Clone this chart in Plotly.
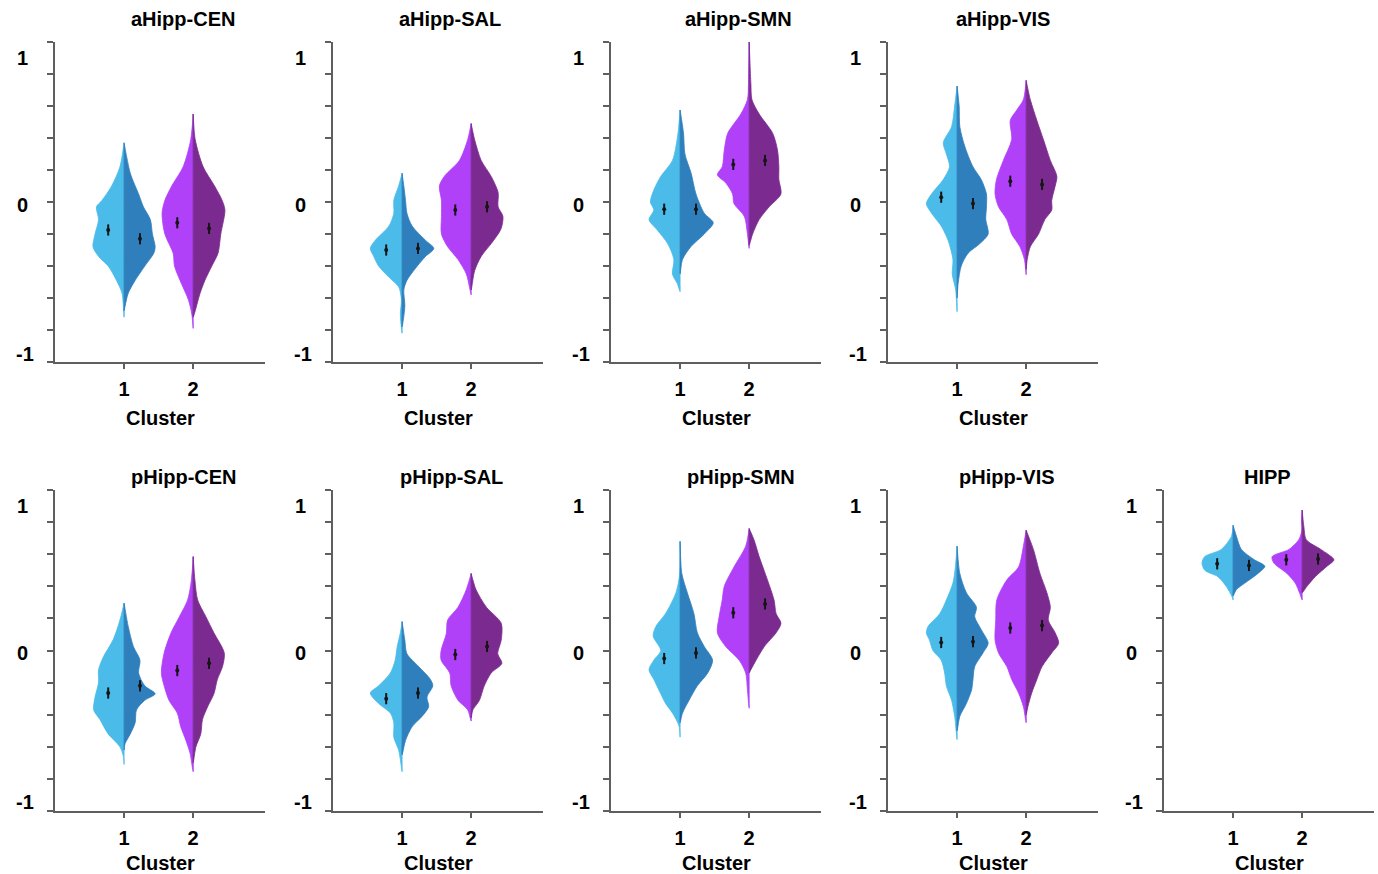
import plotly.graph_objects as go

# ---------------- data ----------------
TITLES = ["aHipp-CEN", "aHipp-SAL", "aHipp-SMN", "aHipp-VIS",
          "pHipp-CEN", "pHipp-SAL", "pHipp-SMN", "pHipp-VIS", "HIPP"]
CATEGORIES = [1, 2]
CAT_LABELS = ["1", "2"]
Y_LABEL_VALUES = ["1", "0", "-1"]

# Each half-violin profile: (y value, half width) from bottom to top
aHipp_CEN_c1_L = [(-0.72,0),(-0.57,0.03),(-0.49,0.11),(-0.40,0.23),(-0.34,0.37),(-0.28,0.45),(-0.20,0.42),(-0.11,0.37),(-0.03,0.40),(0.01,0.32),(0.10,0.18),(0.22,0.06),(0.37,0)]
aHipp_CEN_c1_R = [(-0.68,0),(-0.65,0.015),(-0.57,0.06),(-0.49,0.16),(-0.40,0.30),(-0.32,0.43),(-0.28,0.45),(-0.20,0.41),(-0.11,0.38),(-0.03,0.28),(0.05,0.21),(0.18,0.09),(0.37,0)]
aHipp_CEN_c2_L = [(-0.79,0),(-0.70,0.02),(-0.61,0.07),(-0.49,0.19),(-0.40,0.27),(-0.32,0.29),(-0.20,0.41),(-0.07,0.45),(0.01,0.41),(0.10,0.31),(0.22,0.145),(0.39,0.035),(0.55,0)]
aHipp_CEN_c2_R = [(-0.72,0),(-0.68,0.03),(-0.57,0.10),(-0.49,0.17),(-0.40,0.27),(-0.32,0.36),(-0.20,0.40),(-0.05,0.46),(0.01,0.42),(0.10,0.31),(0.22,0.145),(0.39,0.03),(0.55,0)]
aHipp_CEN_means = [-0.175, -0.23, -0.13, -0.165]

aHipp_SAL_c1_L = [(-0.82,0),(-0.70,0.025),(-0.61,0.01),(-0.53,0.05),(-0.47,0.19),(-0.40,0.34),(-0.34,0.41),(-0.29,0.46),(-0.24,0.39),(-0.15,0.19),(-0.07,0.12),(0.01,0.12),(0.10,0.05),(0.18,0)]
aHipp_SAL_c1_R = [(-0.78,0),(-0.65,0.04),(-0.55,0.025),(-0.49,0.07),(-0.40,0.22),(-0.34,0.34),(-0.29,0.46),(-0.24,0.34),(-0.15,0.145),(-0.07,0.07),(0.01,0.05),(0.10,0.025),(0.18,0)]
aHipp_SAL_c2_L = [(-0.58,0),(-0.53,0.025),(-0.45,0.07),(-0.36,0.19),(-0.28,0.34),(-0.20,0.43),(-0.09,0.43),(0.01,0.43),(0.10,0.46),(0.16,0.39),(0.26,0.17),(0.39,0.05),(0.49,0)]
aHipp_SAL_c2_R = [(-0.55,0),(-0.43,0.05),(-0.34,0.145),(-0.26,0.29),(-0.17,0.43),(-0.09,0.46),(-0.03,0.39),(0.06,0.39),(0.16,0.29),(0.26,0.145),(0.39,0.05),(0.49,0)]
aHipp_SAL_means = [-0.30, -0.29, -0.05, -0.03]

aHipp_SMN_c1_L = [(-0.56,0),(-0.51,0.04),(-0.45,0.11),(-0.36,0.09),(-0.26,0.18),(-0.175,0.33),(-0.11,0.45),(-0.05,0.38),(0.0,0.43),(0.075,0.38),(0.16,0.28),(0.26,0.11),(0.43,0.03),(0.575,0)]
aHipp_SMN_c1_R = [(-0.45,0),(-0.36,0.035),(-0.28,0.155),(-0.2,0.35),(-0.13,0.48),(-0.07,0.35),(0.05,0.23),(0.18,0.16),(0.30,0.07),(0.43,0.05),(0.575,0)]
aHipp_SMN_c2_L = [(-0.29,0),(-0.2,0.025),(-0.09,0.07),(-0.01,0.22),(0.05,0.24),(0.12,0.34),(0.17,0.46),(0.22,0.39),(0.325,0.36),(0.43,0.31),(0.55,0.12),(0.64,0.025),(0.74,0.01),(1.0,0)]
aHipp_SMN_c2_R = [(-0.27,0),(-0.2,0.05),(-0.11,0.145),(-0.03,0.29),(0.05,0.46),(0.14,0.43),(0.22,0.43),(0.325,0.41),(0.43,0.34),(0.55,0.145),(0.64,0.04),(0.74,0.025),(1.0,0)]
aHipp_SMN_means = [-0.045, -0.045, 0.235, 0.26]

aHipp_VIS_c1_L = [(-0.685,0),(-0.55,0.02),(-0.45,0.07),(-0.36,0.06),(-0.24,0.13),(-0.15,0.23),(-0.07,0.37),(-0.01,0.445),(0.05,0.37),(0.14,0.20),(0.22,0.11),(0.30,0.155),(0.37,0.20),(0.47,0.08),(0.60,0.035),(0.725,0)]
aHipp_VIS_c1_R = [(-0.6,0),(-0.51,0.015),(-0.40,0.06),(-0.32,0.16),(-0.26,0.33),(-0.2,0.45),(-0.11,0.415),(-0.03,0.425),(0.05,0.425),(0.14,0.35),(0.22,0.23),(0.35,0.11),(0.47,0.04),(0.60,0.03),(0.725,0)]
aHipp_VIS_c2_L = [(-0.455,0),(-0.36,0.025),(-0.28,0.09),(-0.2,0.21),(-0.11,0.28),(-0.03,0.40),(0.05,0.45),(0.14,0.43),(0.26,0.33),(0.39,0.21),(0.51,0.23),(0.575,0.135),(0.64,0.04),(0.76,0)]
aHipp_VIS_c2_R = [(-0.42,0),(-0.36,0.015),(-0.28,0.06),(-0.2,0.18),(-0.11,0.27),(-0.05,0.37),(0.01,0.37),(0.10,0.42),(0.16,0.445),(0.26,0.35),(0.39,0.25),(0.51,0.155),(0.64,0.06),(0.76,0)]
aHipp_VIS_means = [0.03, -0.01, 0.13, 0.11]

pHipp_CEN_c1_L = [(-0.71,0),(-0.66,0.01),(-0.60,0.06),(-0.52,0.23),(-0.43,0.35),(-0.37,0.44),(-0.29,0.42),(-0.20,0.37),(-0.12,0.37),(-0.04,0.30),(0.07,0.155),(0.19,0.06),(0.295,0)]
pHipp_CEN_c1_R = [(-0.62,0),(-0.58,0.015),(-0.52,0.09),(-0.45,0.16),(-0.37,0.18),(-0.31,0.30),(-0.27,0.45),(-0.22,0.30),(-0.14,0.21),(-0.06,0.23),(0.025,0.135),(0.15,0.06),(0.295,0)]
pHipp_CEN_c2_L = [(-0.755,0),(-0.64,0.045),(-0.56,0.105),(-0.475,0.18),(-0.39,0.23),(-0.31,0.35),(-0.22,0.42),(-0.14,0.46),(-0.015,0.42),(0.11,0.32),(0.21,0.20),(0.315,0.08),(0.44,0.025),(0.585,0)]
pHipp_CEN_c2_R = [(-0.70,0),(-0.60,0.04),(-0.52,0.11),(-0.43,0.135),(-0.35,0.21),(-0.27,0.30),(-0.18,0.35),(-0.10,0.425),(-0.015,0.45),(0.11,0.30),(0.21,0.185),(0.315,0.065),(0.44,0.025),(0.585,0)]
pHipp_CEN_means = [-0.265, -0.22, -0.125, -0.08]

pHipp_SAL_c1_L = [(-0.755,0),(-0.68,0.025),(-0.62,0.05),(-0.54,0.12),(-0.45,0.12),(-0.39,0.17),(-0.33,0.34),(-0.265,0.46),(-0.22,0.34),(-0.14,0.17),(-0.06,0.10),(0.025,0.07),(0.11,0.025),(0.18,0)]
pHipp_SAL_c1_R = [(-0.65,0),(-0.56,0.05),(-0.475,0.145),(-0.41,0.29),(-0.35,0.385),(-0.29,0.36),(-0.22,0.445),(-0.18,0.41),(-0.10,0.24),(-0.02,0.07),(0.065,0.04),(0.18,0)]
pHipp_SAL_c2_L = [(-0.44,0),(-0.37,0.05),(-0.31,0.19),(-0.22,0.29),(-0.14,0.31),(-0.06,0.435),(0.0,0.435),(0.105,0.36),(0.19,0.34),(0.27,0.19),(0.38,0.07),(0.48,0)]
pHipp_SAL_c2_R = [(-0.42,0),(-0.37,0.025),(-0.31,0.12),(-0.22,0.19),(-0.14,0.29),(-0.08,0.445),(-0.02,0.385),(0.065,0.435),(0.17,0.435),(0.27,0.22),(0.38,0.07),(0.48,0)]
pHipp_SAL_means = [-0.30, -0.265, -0.025, 0.025]

pHipp_SMN_c1_L = [(-0.54,0),(-0.47,0.015),(-0.39,0.11),(-0.33,0.21),(-0.27,0.28),(-0.18,0.38),(-0.12,0.45),(-0.06,0.38),(0.0,0.28),(0.09,0.39),(0.15,0.35),(0.23,0.21),(0.36,0.06),(0.48,0.005),(0.68,0)]
pHipp_SMN_c1_R = [(-0.45,0),(-0.39,0.035),(-0.31,0.13),(-0.22,0.25),(-0.14,0.40),(-0.06,0.47),(0.025,0.35),(0.11,0.25),(0.23,0.20),(0.36,0.105),(0.48,0.025),(0.68,0)]
pHipp_SMN_c2_L = [(-0.36,0),(-0.245,0.025),(-0.14,0.05),(-0.06,0.145),(0.025,0.34),(0.11,0.46),(0.21,0.435),(0.315,0.39),(0.40,0.36),(0.52,0.22),(0.65,0.05),(0.76,0)]
pHipp_SMN_c2_R = [(-0.14,0),(-0.12,0.025),(-0.06,0.10),(0.025,0.22),(0.11,0.39),(0.17,0.46),(0.23,0.39),(0.315,0.36),(0.44,0.265),(0.585,0.145),(0.69,0.07),(0.76,0)]
pHipp_SMN_means = [-0.05, -0.015, 0.235, 0.29]

pHipp_VIS_c1_L = [(-0.555,0),(-0.41,0.035),(-0.31,0.08),(-0.22,0.155),(-0.14,0.18),(-0.06,0.23),(0.0,0.35),(0.065,0.40),(0.11,0.445),(0.15,0.42),(0.23,0.25),(0.315,0.155),(0.42,0.06),(0.52,0.025),(0.65,0)]
pHipp_VIS_c1_R = [(-0.5,0),(-0.41,0.04),(-0.33,0.135),(-0.245,0.21),(-0.18,0.23),(-0.10,0.255),(-0.015,0.375),(0.045,0.45),(0.13,0.35),(0.21,0.255),(0.27,0.28),(0.36,0.135),(0.48,0.04),(0.65,0)]
pHipp_VIS_c2_L = [(-0.45,0),(-0.35,0.04),(-0.265,0.11),(-0.18,0.21),(-0.10,0.28),(-0.015,0.40),(0.065,0.45),(0.19,0.44),(0.315,0.425),(0.44,0.28),(0.52,0.11),(0.65,0.04),(0.75,0)]
pHipp_VIS_c2_R = [(-0.4,0),(-0.35,0.025),(-0.265,0.08),(-0.18,0.155),(-0.10,0.23),(-0.015,0.37),(0.045,0.47),(0.11,0.42),(0.19,0.32),(0.27,0.35),(0.36,0.30),(0.48,0.20),(0.63,0.105),(0.75,0)]
pHipp_VIS_means = [0.05, 0.055, 0.14, 0.155]

HIPP_c1_L = [(0.315,0),(0.335,0.015),(0.40,0.10),(0.46,0.22),(0.50,0.41),(0.545,0.45),(0.585,0.41),(0.63,0.17),(0.71,0.025),(0.78,0)]
HIPP_c1_R = [(0.34,0),(0.38,0.05),(0.42,0.17),(0.48,0.36),(0.525,0.46),(0.565,0.31),(0.63,0.12),(0.71,0.05),(0.78,0)]
HIPP_c2_L = [(0.315,0),(0.355,0.035),(0.42,0.10),(0.48,0.22),(0.545,0.41),(0.585,0.435),(0.63,0.19),(0.69,0.05),(0.75,0.003),(0.815,0.01),(0.875,0)]
HIPP_c2_R = [(0.36,0),(0.40,0.07),(0.46,0.19),(0.525,0.36),(0.565,0.46),(0.63,0.27),(0.69,0.06),(0.77,0.025),(0.875,0)]
HIPP_means = [0.54, 0.53, 0.565, 0.57]

PROFILES = [
    [aHipp_CEN_c1_L, aHipp_CEN_c1_R, aHipp_CEN_c2_L, aHipp_CEN_c2_R],
    [aHipp_SAL_c1_L, aHipp_SAL_c1_R, aHipp_SAL_c2_L, aHipp_SAL_c2_R],
    [aHipp_SMN_c1_L, aHipp_SMN_c1_R, aHipp_SMN_c2_L, aHipp_SMN_c2_R],
    [aHipp_VIS_c1_L, aHipp_VIS_c1_R, aHipp_VIS_c2_L, aHipp_VIS_c2_R],
    [pHipp_CEN_c1_L, pHipp_CEN_c1_R, pHipp_CEN_c2_L, pHipp_CEN_c2_R],
    [pHipp_SAL_c1_L, pHipp_SAL_c1_R, pHipp_SAL_c2_L, pHipp_SAL_c2_R],
    [pHipp_SMN_c1_L, pHipp_SMN_c1_R, pHipp_SMN_c2_L, pHipp_SMN_c2_R],
    [pHipp_VIS_c1_L, pHipp_VIS_c1_R, pHipp_VIS_c2_L, pHipp_VIS_c2_R],
    [HIPP_c1_L, HIPP_c1_R, HIPP_c2_L, HIPP_c2_R],
]
MEANS = [aHipp_CEN_means, aHipp_SAL_means, aHipp_SMN_means, aHipp_VIS_means,
         pHipp_CEN_means, pHipp_SAL_means, pHipp_SMN_means, pHipp_VIS_means, HIPP_means]

# ---------------- styling / layout ----------------
W, H = 1378, 874
FONT = "Liberation Sans, Arial, sans-serif"
AXIS_COLOR = "#5f5f5f"
COLORS = ["#4BBBE9", "#2F7FBD", "#B041F8", "#7B2B8F"]  # c1 left, c1 right, c2 left, c2 right
COL_X = [55, 333, 611, 888, 1164]
ROW_TOP = [42, 490]
ROW_BOT = [362, 811]
PANEL_W = 210
PANEL_POS = [(0, 0), (0, 1), (0, 2), (0, 3), (1, 0), (1, 1), (1, 2), (1, 3), (1, 4)]
TITLE_X = [183, 450, 738, 1003, 184, 452, 741, 1007, 1267]
TITLE_Y = [19, 477]
X_RANGE = [0, 3.04]
MEAN_OFFSET = 0.23

fig = go.Figure()
annotations = []
layout_axes = {}

for i, (title, profs, means) in enumerate(zip(TITLES, PROFILES, MEANS)):
    row, col = PANEL_POS[i]
    n = "" if i == 0 else str(i + 1)
    xa, ya = "x" + n, "y" + n
    x0 = COL_X[col]
    top, bot = ROW_TOP[row], ROW_BOT[row]

    for k, prof in enumerate(profs):
        center = CATEGORIES[k // 2]
        side = -1 if k % 2 == 0 else 1
        ys = [p[0] for p in prof]
        xs = [center + side * p[1] for p in prof]
        # return along the centre line through the same y levels
        xs = xs + [center] * len(prof)
        ys = ys + ys[::-1]
        fig.add_trace(go.Scatter(
            x=xs, y=ys, xaxis=xa, yaxis=ya, mode="lines", fill="toself",
            fillcolor=COLORS[k],
            line=dict(color=COLORS[k], width=0.8, shape="spline", smoothing=0.8),
            hoverinfo="skip", showlegend=False))

    mx = [CATEGORIES[0] - MEAN_OFFSET, CATEGORIES[0] + MEAN_OFFSET,
          CATEGORIES[1] - MEAN_OFFSET, CATEGORIES[1] + MEAN_OFFSET]
    fig.add_trace(go.Scatter(
        x=mx, y=means, xaxis=xa, yaxis=ya, mode="markers",
        marker=dict(symbol="circle", size=4, color="#151515"),
        error_y=dict(type="constant", value=0.035, thickness=2, width=0, color="#151515"),
        hoverinfo="skip", showlegend=False))

    layout_axes["xaxis" + n] = dict(
        domain=[x0 / W, (x0 + PANEL_W) / W], range=X_RANGE, anchor=ya,
        tickmode="array", tickvals=CATEGORIES, ticktext=CAT_LABELS,
        ticks="outside", ticklen=5, tickwidth=2, tickcolor=AXIS_COLOR,
        showline=True, linecolor=AXIS_COLOR, linewidth=2,
        showgrid=False, zeroline=False, ticklabelstandoff=3,
        tickfont=dict(family=FONT, size=20, color="black", weight="bold"),
        fixedrange=True)
    layout_axes["yaxis" + n] = dict(
        domain=[1 - bot / H, 1 - top / H], range=[-1, 1], anchor=xa,
        tickmode="array", tickvals=[-1, -0.8, -0.6, -0.4, -0.2, 0, 0.2, 0.4, 0.6, 0.8, 1],
        showticklabels=False, ticks="outside", ticklen=6, tickwidth=2, tickcolor=AXIS_COLOR,
        showline=True, linecolor=AXIS_COLOR, linewidth=2,
        showgrid=False, zeroline=False, fixedrange=True)

    # panel title
    annotations.append(dict(
        text=title, x=TITLE_X[i] / W, y=1 - TITLE_Y[row] / H, xref="paper", yref="paper",
        xanchor="center", yanchor="middle", showarrow=False,
        font=dict(family=FONT, size=20, color="black", weight="bold")))
    # x-axis title
    annotations.append(dict(
        text="Cluster", x=(x0 + PANEL_W / 2) / W,
        y=1 - (bot + (56 if row == 0 else 52)) / H, xref="paper", yref="paper",
        xanchor="center", yanchor="middle", showarrow=False,
        font=dict(family=FONT, size=20, color="black", weight="bold")))
    # y-axis labels (placed as in the reference)
    for lab, dy, dx in zip(Y_LABEL_VALUES, [16, 163, 312], [33, 33, 30]):
        annotations.append(dict(
            text=lab, x=(x0 - dx) / W, y=1 - (top + dy) / H, xref="paper", yref="paper",
            xanchor="center", yanchor="middle", showarrow=False,
            font=dict(family=FONT, size=20, color="black", weight="bold")))

fig.update_layout(
    width=W, height=H, margin=dict(l=0, r=0, t=0, b=0),
    paper_bgcolor="white", plot_bgcolor="white", showlegend=False,
    annotations=annotations, **layout_axes)

fig.write_html("out.html", config={"displayModeBar": False},
               post_script="document.body.style.margin='0';")
